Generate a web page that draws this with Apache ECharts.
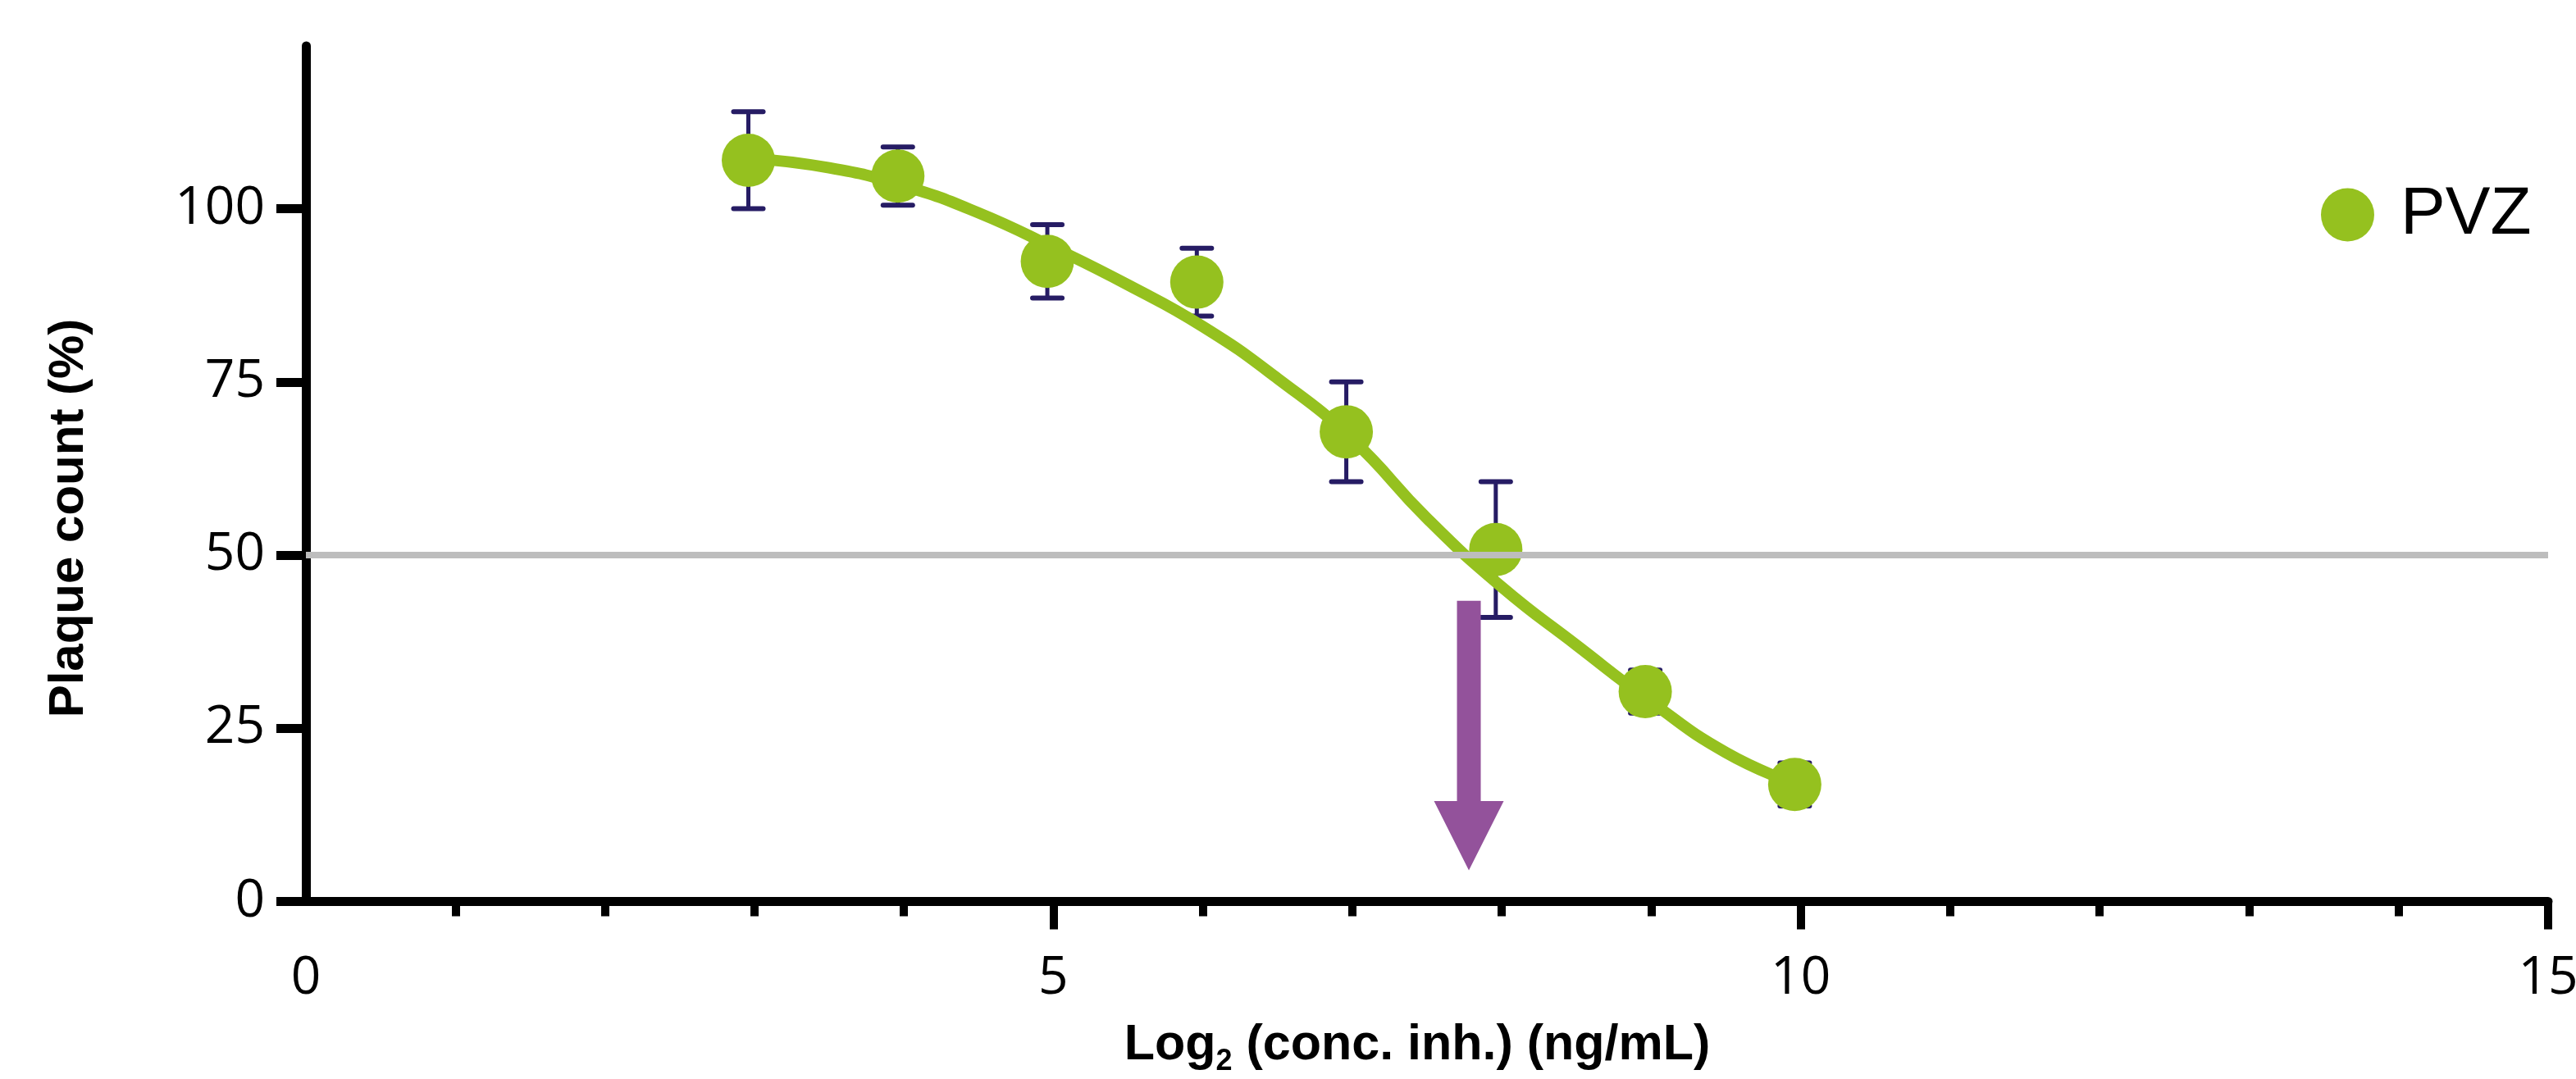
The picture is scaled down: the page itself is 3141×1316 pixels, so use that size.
<!DOCTYPE html>
<html><head><meta charset="utf-8">
<script src="https://cdn.jsdelivr.net/npm/echarts@6/dist/echarts.min.js"></script>
<style>html,body{margin:0;padding:0;background:#fff}#c{width:3141px;height:1316px}</style>
</head><body><div id="c"></div>
<script>
// ---- data ----
const xValues = [2.96, 3.96, 4.96, 5.96, 6.96, 7.96, 8.96, 9.96];
const plaqueMeans = [107.0, 104.7, 92.4, 89.4, 67.8, 50.8, 30.3, 16.9];
const plaqueErrors = [7.0, 4.2, 5.3, 4.9, 7.2, 9.8, 3.1, 3.1];
const fitX = [2.96, 3.5, 4.0, 4.5, 5.0, 5.5, 6.0, 6.5, 7.0, 7.5, 8.0, 8.5, 9.0, 9.5, 9.96];
const fitY = [107.3, 105.9, 103.3, 99.4, 94.4, 89.0, 83.0, 75.5, 66.7, 55.3, 45.4, 37.0, 28.8, 21.5, 17.0];
const refLineX = [0, 15];
const refLineY = [50, 50];
const arrowX = [7.78];
const arrowTop = [43.4];
const arrowHeadBase = [14.5];
const arrowTip = [4.5];
const xTicks = [0, 5, 10, 15];
const yTicks = [0, 25, 50, 75, 100];
const seriesName = 'PVZ';

const GREEN = '#95c11f', NAVY = '#261c64', PURPLE = '#93529b', GRAY = '#bdbdbd';

const chart = echarts.init(document.getElementById('c'), null, {renderer: 'canvas'});
chart.setOption({
  animation: false,
  backgroundColor: '#fff',
  grid: {left: 373, right: 34, top: 56, bottom: 216.5, containLabel: false, outerBoundsMode: 'none'},
  xAxis: {
    type: 'value', min: 0, max: 15, interval: 5,
    axisLine: {show: true, lineStyle: {color: '#000', width: 11}},
    axisTick: {show: true, customValues: [5, 10, 15], length: 34, lineStyle: {color: '#000', width: 10}},
    minorTick: {show: true, splitNumber: 5, length: 18, lineStyle: {color: '#000', width: 10}},
    axisLabel: {customValues: xTicks, margin: 62, fontSize: 64, fontFamily: '"Open Sans"', color: '#000'},
    splitLine: {show: false}, minorSplitLine: {show: false}
  },
  yAxis: {
    type: 'value', min: 0, max: 123.5, interval: 25,
    axisLine: {show: true, lineStyle: {color: '#000', width: 11}},
    axisTick: {show: true, customValues: yTicks, length: 36, lineStyle: {color: '#000', width: 11}},
    axisLabel: {customValues: yTicks, margin: 50, fontSize: 64, fontFamily: '"Open Sans"', color: '#000'},
    splitLine: {show: false}
  },
  legend: {
    data: [seriesName], left: 2825, top: 216, itemWidth: 65, itemHeight: 65, icon: 'circle',
    textStyle: {fontSize: 82, fontFamily: '"Liberation Sans", Arial', color: '#000', padding: [0, 0, 0, 27]}
  },
  graphic: [
    {type: 'text', x: 84, y: 632, rotation: Math.PI / 2,
     style: {text: 'Plaque count (%)', font: 'bold 60px "Liberation Sans", Arial', fill: '#000', textAlign: 'center', textVerticalAlign: 'middle'}},
    {type: 'text', x: 1728, y: 1275,
     style: {text: '{m|Log}{s|2}{m| (conc. inh.) (ng/mL)}', textAlign: 'center', textVerticalAlign: 'middle',
       rich: {m: {fontSize: 61, fontWeight: 'bold', fontFamily: '"Liberation Sans", Arial', fill: '#000', lineHeight: 80, verticalAlign: 'middle'},
              s: {fontSize: 36, fontWeight: 'bold', fontFamily: '"Liberation Sans", Arial', fill: '#000', lineHeight: 36, padding: [40, 0, 0, 0], verticalAlign: 'middle'}}}}
  ],
  series: [
    {
      type: 'custom', name: 'errors', silent: true, z: 2,
      data: xValues.map((x, i) => [x, plaqueMeans[i], plaqueErrors[i]]),
      encode: {x: 0, y: 1},
      renderItem: function (params, api) {
        const x = api.value(0), y = api.value(1), e = api.value(2);
        const t = api.coord([x, y + e]), b = api.coord([x, y - e]);
        const hw = 18;
        return {type: 'group', children: [
          {type: 'line', shape: {x1: t[0], y1: t[1], x2: b[0], y2: b[1]}, style: {stroke: NAVY, lineWidth: 5}},
          {type: 'line', shape: {x1: t[0] - hw, y1: t[1], x2: t[0] + hw, y2: t[1]}, style: {stroke: NAVY, lineWidth: 6, lineCap: 'round'}},
          {type: 'line', shape: {x1: b[0] - hw, y1: b[1], x2: b[0] + hw, y2: b[1]}, style: {stroke: NAVY, lineWidth: 6, lineCap: 'round'}}
        ]};
      }
    },
    {
      type: 'line', name: 'fit', smooth: 0.5, showSymbol: false, symbol: 'none', z: 3, silent: true,
      data: fitX.map((x, i) => [x, fitY[i]]),
      lineStyle: {color: GREEN, width: 14, cap: 'round'}
    },
    {
      type: 'scatter', name: seriesName, z: 4, symbol: 'circle', symbolSize: 65,
      itemStyle: {color: GREEN, opacity: 1},
      data: xValues.map((x, i) => [x, plaqueMeans[i]])
    },
    {
      type: 'line', name: 'ref50', z: 5, silent: true, showSymbol: false, symbol: 'none',
      data: refLineX.map((x, i) => [x, refLineY[i]]),
      lineStyle: {color: GRAY, width: 8}
    },
    {
      type: 'custom', name: 'arrow', silent: true, z: 6,
      data: arrowX.map((x, i) => [x, arrowTop[i], arrowHeadBase[i], arrowTip[i]]),
      encode: {x: 0, y: 1},
      renderItem: function (params, api) {
        const x = api.value(0);
        const top = api.coord([x, api.value(1)]);
        const hb = api.coord([x, api.value(2)]);
        const tip = api.coord([x, api.value(3)]);
        const sw = 14.5, hw = 42.5;
        return {type: 'polygon', shape: {points: [
          [top[0] - sw, top[1]], [top[0] + sw, top[1]], [hb[0] + sw, hb[1]], [hb[0] + hw, hb[1]],
          [tip[0], tip[1]], [hb[0] - hw, hb[1]], [hb[0] - sw, hb[1]]
        ]}, style: {fill: PURPLE}};
      }
    }
  ]
});
</script></body></html>
